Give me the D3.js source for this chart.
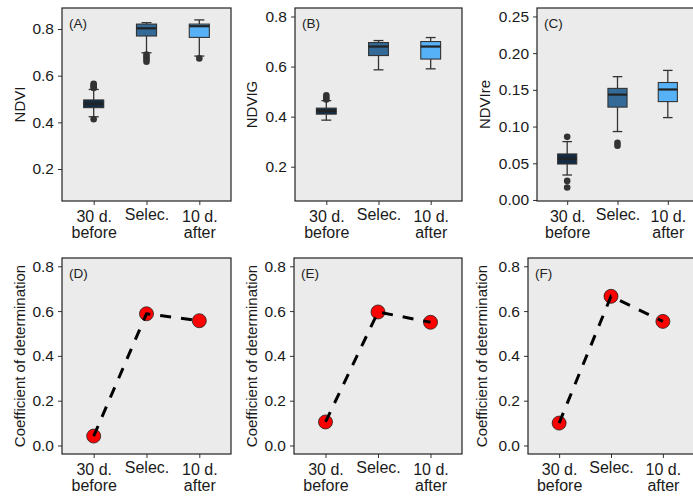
<!DOCTYPE html>
<html>
<head>
<meta charset="utf-8">
<script src="https://cdn.jsdelivr.net/npm/d3@7"></script>
<style>
  html, body { margin: 0; padding: 0; background: #ffffff; }
  svg { display: block; font-family: "Liberation Sans", Arial, sans-serif; }
</style>
</head>
<body>
<svg id="fig" width="693" height="496"></svg>
<script>
// ---- data ----
const categories = ["30 d.\nbefore", "Selec.", "10 d.\nafter"];
const boxFills = ["#132B43", "#336A98", "#56B1F7"];

// Box summaries: [lower whisker, q1, median, q3, upper whisker]
const ndviStats = [
  [0.424, 0.463, 0.479, 0.496, 0.541],
  [0.698, 0.770, 0.803, 0.821, 0.827],
  [0.684, 0.764, 0.812, 0.821, 0.839]
];
const ndviOutliers = [
  [0.547, 0.553, 0.559, 0.565, 0.413],
  [0.690, 0.680, 0.670, 0.660],
  [0.674]
];
const ndvigStats = [
  [0.386, 0.410, 0.423, 0.434, 0.464],
  [0.587, 0.644, 0.680, 0.696, 0.704],
  [0.591, 0.630, 0.680, 0.700, 0.716]
];
const ndvigOutliers = [
  [0.468, 0.476, 0.485],
  [],
  []
];
const ndvireStats = [
  [0.034, 0.049, 0.0563, 0.0627, 0.0795],
  [0.0932, 0.1265, 0.1435, 0.152, 0.168],
  [0.1122, 0.134, 0.1505, 0.160, 0.1765]
];
const ndvireOutliers = [
  [0.086, 0.026, 0.017],
  [0.078, 0.074],
  []
];

// Coefficient of determination per period
const r2D = [0.042, 0.588, 0.557];
const r2E = [0.105, 0.596, 0.550];
const r2F = [0.100, 0.666, 0.554];

const ticksNDVI = [0.2, 0.4, 0.6, 0.8];
const ticksNDVIre = [0.00, 0.05, 0.10, 0.15, 0.20, 0.25];
const ticksR2 = [0.0, 0.2, 0.4, 0.6, 0.8];

// ---- panel layout ----
const panels = [
  { label: "(A)", title: "NDVI", kind: "box", stats: ndviStats, outliers: ndviOutliers,
    x0: 62, x1: 231, y0: 8, y1: 201, domain: [0.063, 0.890], ticks: ticksNDVI, fmt: ".1f", titleX: 20 },
  { label: "(B)", title: "NDVIG", kind: "box", stats: ndvigStats, outliers: ndvigOutliers,
    x0: 295, x1: 462, y0: 8, y1: 201, domain: [0.063, 0.834], ticks: ticksNDVI, fmt: ".1f", titleX: 252 },
  { label: "(C)", title: "NDVIre", kind: "box", stats: ndvireStats, outliers: ndvireOutliers,
    x0: 537, x1: 698, y0: 8, y1: 201, domain: [-0.0014, 0.2615], ticks: ticksNDVIre, fmt: ".2f", titleX: 485 },
  { label: "(D)", title: "Coefficient of determination", kind: "line", values: r2D,
    x0: 62, x1: 231, y0: 258, y1: 454, domain: [-0.038, 0.837], ticks: ticksR2, fmt: ".1f", titleX: 20 },
  { label: "(E)", title: "Coefficient of determination", kind: "line", values: r2E,
    x0: 294, x1: 462, y0: 258, y1: 454, domain: [-0.038, 0.837], ticks: ticksR2, fmt: ".1f", titleX: 252 },
  { label: "(F)", title: "Coefficient of determination", kind: "line", values: r2F,
    x0: 528, x1: 694, y0: 258, y1: 454, domain: [-0.038, 0.837], ticks: ticksR2, fmt: ".1f", titleX: 482 }
];

const svg = d3.select("#fig");
const ink = "#333333";

panels.forEach(p => {
  const g = svg.append("g");
  const x = d3.scalePoint().domain(categories).range([p.x0, p.x1]).padding(0.6);
  const y = d3.scaleLinear().domain(p.domain).range([p.y1, p.y0]);
  const step = x.step();

  // panel background
  g.append("rect")
    .attr("x", p.x0).attr("y", p.y0)
    .attr("width", p.x1 - p.x0).attr("height", p.y1 - p.y0)
    .attr("fill", "#EBEBEB");

  // y axis
  const yAxis = d3.axisLeft(y).tickValues(p.ticks).tickFormat(d3.format(p.fmt))
    .tickSize(4).tickPadding(4);
  const ya = g.append("g").attr("transform", `translate(${p.x0},0)`).call(yAxis);
  ya.select(".domain").remove();
  ya.selectAll(".tick line").attr("stroke", ink).attr("stroke-width", 1);
  ya.selectAll(".tick text").attr("fill", "#1a1a1a").style("font-size", "15.5px")
    .style("font-family", "Liberation Sans, Arial, sans-serif");

  // x axis (two-line category labels)
  const xAxis = d3.axisBottom(x).tickSize(4).tickFormat("");
  const xa = g.append("g").attr("transform", `translate(0,${p.y1})`).call(xAxis);
  xa.select(".domain").remove();
  xa.selectAll(".tick line").attr("stroke", ink).attr("stroke-width", 1);
  xa.selectAll(".tick").each(function(d) {
    const lines = d.split("\n");
    lines.forEach((ln, i) => {
      d3.select(this).append("text")
        .attr("fill", "#1a1a1a").attr("text-anchor", "middle")
        .style("font-size", "16px")
        .style("font-family", "Liberation Sans, Arial, sans-serif")
        .attr("x", 0)
        .attr("y", (lines.length > 1 ? 21 : 18.5) + i * 15.5)
        .text(ln);
    });
  });

  // y title
  g.append("text")
    .attr("transform", `translate(${p.titleX},${(p.y0 + p.y1) / 2}) rotate(-90)`)
    .attr("text-anchor", "middle").attr("dy", "0.35em")
    .attr("fill", "#1a1a1a").style("font-size", "15px")
    .text(p.title);

  if (p.kind === "box") {
    const bw = step * 0.38;
    const cw = bw * 0.5;
    categories.forEach((c, i) => {
      const [lw, q1, md, q3, uw] = p.stats[i];
      const cx = x(c);
      const bg = g.append("g");
      // whiskers
      bg.append("line").attr("x1", cx).attr("x2", cx).attr("y1", y(uw)).attr("y2", y(q3))
        .attr("stroke", ink).attr("stroke-width", 1.3);
      bg.append("line").attr("x1", cx).attr("x2", cx).attr("y1", y(q1)).attr("y2", y(lw))
        .attr("stroke", ink).attr("stroke-width", 1.3);
      [lw, uw].forEach(v => {
        bg.append("line").attr("x1", cx - cw / 2).attr("x2", cx + cw / 2)
          .attr("y1", y(v)).attr("y2", y(v))
          .attr("stroke", ink).attr("stroke-width", 1.3);
      });
      // box
      bg.append("rect")
        .attr("x", cx - bw / 2).attr("y", y(q3))
        .attr("width", bw).attr("height", y(q1) - y(q3))
        .attr("fill", boxFills[i]).attr("stroke", ink).attr("stroke-width", 1.1);
      // median
      bg.append("line").attr("x1", cx - bw / 2).attr("x2", cx + bw / 2)
        .attr("y1", y(md)).attr("y2", y(md))
        .attr("stroke", "#222222").attr("stroke-width", 2.2);
      // outliers
      p.outliers[i].forEach(v => {
        bg.append("circle").attr("cx", cx).attr("cy", y(v)).attr("r", 3.3)
          .attr("fill", ink);
      });
    });
  } else {
    const pts = categories.map((c, i) => [x(c), y(p.values[i])]);
    g.selectAll("circle.pt").data(pts).enter().append("circle")
      .attr("class", "pt")
      .attr("cx", d => d[0]).attr("cy", d => d[1]).attr("r", 7)
      .attr("fill", "#FF0000").attr("stroke", "#222222").attr("stroke-width", 0.8);
    g.append("path")
      .attr("d", d3.line()(pts))
      .attr("fill", "none").attr("stroke", "#000000")
      .attr("stroke-width", 3).attr("stroke-dasharray", "11,10");
  }

  // panel border
  g.append("rect")
    .attr("x", p.x0).attr("y", p.y0)
    .attr("width", p.x1 - p.x0).attr("height", p.y1 - p.y0)
    .attr("fill", "none").attr("stroke", "#222222").attr("stroke-width", 1.2);

  // panel label
  g.append("text")
    .attr("x", p.x0 + 7).attr("y", p.y0 + 20)
    .attr("fill", "#222222").style("font-size", "13.5px")
    .text(p.label);
});
</script>
</body>
</html>
